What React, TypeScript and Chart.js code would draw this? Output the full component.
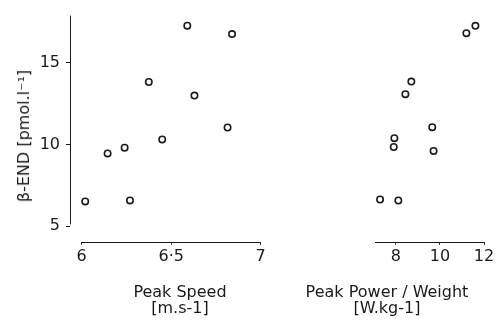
import React, { useEffect, useRef } from "react";
import { Chart, registerables } from "chart.js";

Chart.register(...registerables);

// ---- data ----
const peakSpeed = [6.02, 6.145, 6.24, 6.27, 6.375, 6.45, 6.59, 6.63, 6.815, 6.84];
const bEndSpeed = [6.51, 9.45, 9.8, 6.57, 13.83, 10.31, 17.28, 13.0, 11.04, 16.77];
const peakPowerWeight = [7.28, 8.11, 7.9, 7.93, 8.43, 8.7, 9.65, 9.71, 11.2, 11.61];
const bEndPower = [6.62, 6.56, 9.83, 10.37, 13.06, 13.83, 11.04, 9.59, 16.79, 17.24];

const speedTicks = [6, 6.5, 7];
const speedTickLabels = ["6", "6·5", "7"];
const powerTicks = [8, 10, 12];
const powerTickLabels = ["8", "10", "12"];
const bEndTicks = [5, 10, 15];
const bEndTickLabels = ["5", "10", "15"];

const bEndRange = [4.04, 17.9];
const speedRange = [5.935, 7];
const powerRange = [7.05, 12];

const yTitle = "β-END [pmol.l⁻¹]";
const speedTitle = ["Peak Speed", "[m.s-1]"];
const powerTitle = ["Peak Power / Weight", "[W.kg-1]"];

const FONT = "'DejaVu Sans', sans-serif";
const INK = "#1a1a1a";

const axisLines = {
  id: "axisLines",
  afterDraw(chart: any, _args: any, opts: any) {
    const { ctx, chartArea, scales } = chart;
    ctx.save();
    ctx.strokeStyle = INK;
    ctx.lineWidth = 1;
    ctx.beginPath();
    if (opts.yLine) {
      const x = Math.round(chartArea.left) + 0.5;
      ctx.moveTo(x, scales.y.getPixelForValue(opts.yFrom));
      ctx.lineTo(x, chartArea.top);
    }
    const yb = Math.round(chartArea.bottom) + 0.5;
    const x0 = opts.xFrom == null ? chartArea.left : scales.x.getPixelForValue(opts.xFrom);
    ctx.moveTo(x0, yb);
    ctx.lineTo(scales.x.getPixelForValue(opts.xTo), yb);
    ctx.stroke();
    ctx.restore();
  },
};

function makePanel(
  canvas: HTMLCanvasElement,
  xs: number[],
  ys: number[],
  xRange: number[],
  xTicks: number[],
  xLabels: string[],
  showY: boolean,
  padding: any,
  lineOpts: any
) {
  return new Chart(canvas, {
    type: "scatter",
    data: {
      datasets: [
        {
          data: xs.map((x, i) => ({ x, y: ys[i] })),
          pointRadius: 3.2,
          pointBorderWidth: 1.6,
          pointBackgroundColor: "#fff",
          pointBorderColor: INK,
          clip: false as any,
        },
      ],
    },
    options: {
      animation: false,
      responsive: false,
      events: [],
      layout: { padding },
      plugins: {
        legend: { display: false },
        tooltip: { enabled: false },
        axisLines: lineOpts,
      } as any,
      scales: {
        x: {
          type: "linear",
          min: xRange[0],
          max: xRange[1],
          afterBuildTicks: (s: any) => {
            s.ticks = xTicks.map((v) => ({ value: v }));
          },
          afterFit: (s: any) => {
            s.height = 86.3;
          },
          border: { display: false },
          grid: { drawOnChartArea: false, drawTicks: true, tickLength: 3, color: INK },
          ticks: {
            padding: 3,
            color: INK,
            maxRotation: 0,
            font: { family: FONT, size: 16 },
            callback: (_v: any, i: number) => xLabels[i],
          },
        },
        y: {
          type: "linear",
          display: showY,
          min: bEndRange[0],
          max: bEndRange[1],
          afterBuildTicks: (s: any) => {
            s.ticks = bEndTicks.map((v) => ({ value: v }));
          },
          afterFit: (s: any) => {
            s.width = 70;
          },
          border: { display: false },
          grid: { drawOnChartArea: false, drawTicks: true, tickLength: 4, color: INK },
          ticks: {
            padding: 6,
            color: INK,
            font: { family: FONT, size: 16 },
            callback: (_v: any, i: number) => bEndTickLabels[i],
          },
        },
      },
    },
    plugins: [axisLines as any],
  });
}

const textStyle: React.CSSProperties = {
  position: "absolute",
  fontFamily: FONT,
  fontSize: 16,
  color: INK,
  whiteSpace: "nowrap",
  lineHeight: "16px",
  textAlign: "center",
};

export default function App() {
  const leftRef = useRef<HTMLCanvasElement>(null);
  const rightRef = useRef<HTMLCanvasElement>(null);

  useEffect(() => {
    const left = makePanel(
      leftRef.current!,
      peakSpeed,
      bEndSpeed,
      speedRange,
      speedTicks,
      speedTickLabels,
      true,
      { top: 15, right: 19.3, bottom: 0, left: 0 },
      { yLine: true, yFrom: 5.1, xFrom: speedTicks[0], xTo: speedTicks[speedTicks.length - 1] }
    );
    const right = makePanel(
      rightRef.current!,
      peakPowerWeight,
      bEndPower,
      powerRange,
      powerTicks,
      powerTickLabels,
      false,
      { top: 15, right: 14, bottom: 0, left: 15 },
      { yLine: false, xFrom: null, xTo: powerTicks[powerTicks.length - 1] }
    );
    return () => {
      left.destroy();
      right.destroy();
    };
  }, []);

  return (
    <div
      style={{
        position: "fixed",
        left: 0,
        top: 0,
        width: 498,
        height: 328,
        background: "#fff",
        overflow: "hidden",
      }}
    >
      <canvas
        ref={leftRef}
        width={280}
        height={328}
        style={{ position: "absolute", left: 0, top: 0, width: 280, height: 328 }}
      />
      <canvas
        ref={rightRef}
        width={208}
        height={328}
        style={{ position: "absolute", left: 290, top: 0, width: 208, height: 328 }}
      />
      <div
        style={{
          ...textStyle,
          left: 24,
          top: 136,
          transform: "translate(-50%, -50%) rotate(-90deg)",
        }}
      >
        {yTitle}
      </div>
      <div style={{ ...textStyle, left: 180, top: 284, transform: "translateX(-50%)" }}>
        {speedTitle[0]}
        <br />
        {speedTitle[1]}
      </div>
      <div style={{ ...textStyle, left: 387, top: 284, transform: "translateX(-50%)" }}>
        {powerTitle[0]}
        <br />
        {powerTitle[1]}
      </div>
    </div>
  );
}
